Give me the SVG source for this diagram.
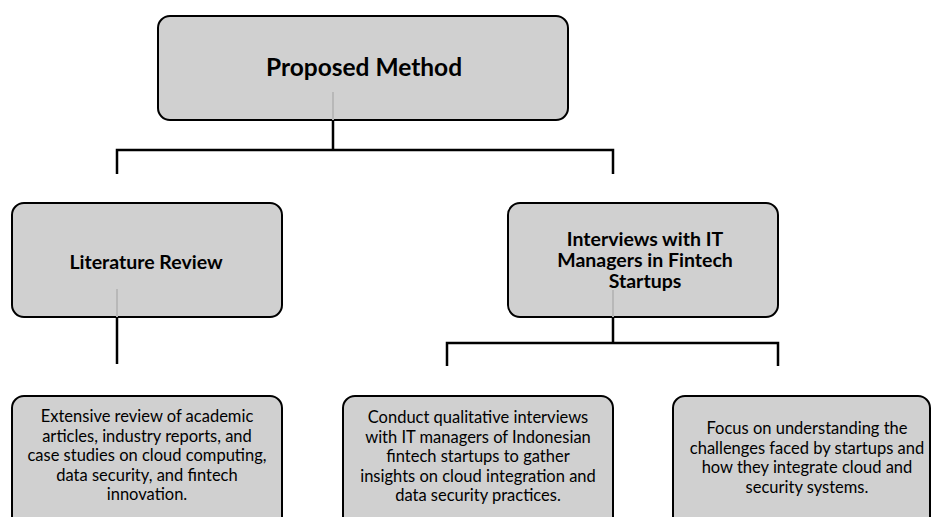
<svg xmlns="http://www.w3.org/2000/svg" width="935" height="517" viewBox="0 0 935 517">
<style>
.box{fill:#d0d0d0;stroke:#000;stroke-width:2}
.inner{stroke:#b8b8b8;stroke-width:2;fill:none}
.conn{stroke:#000;stroke-width:2.5;fill:none}
.t{font-family:Lato,"Open Sans","Liberation Sans",sans-serif;fill:#000;text-anchor:middle}
.h{font-weight:bold;font-size:19.5px}
.b{font-size:16.5px}
</style>
<rect width="935" height="517" fill="#fff"/>
<g id="connectors">
<path class="conn" d="M333 120 V150 M117 174 V150 H613 V174"/>
<path class="conn" d="M117 317 V364"/>
<path class="conn" d="M613 317 V343 M447 366 V343 H778 V366"/>
</g>
<g id="proposed-method">
<rect class="box" x="158" y="16" width="410" height="104" rx="12"/>
<line class="inner" x1="333" y1="92" x2="333" y2="120"/>
<text class="t" x="364" y="76" style="font-weight:bold;font-size:24.5px">Proposed Method</text>
</g>
<g id="literature-review">
<rect class="box" x="12" y="203" width="270" height="114" rx="12"/>
<line class="inner" x1="117" y1="289" x2="117" y2="317"/>
<text class="t h" x="146" y="269">Literature Review</text>
</g>
<g id="interviews">
<rect class="box" x="508" y="203" width="270" height="114" rx="12"/>
<line class="inner" x1="613" y1="290" x2="613" y2="317"/>
<text class="t h" x="645" y="246">Interviews with IT</text>
<text class="t h" x="645" y="267">Managers in Fintech</text>
<text class="t h" x="645" y="288">Startups</text>
</g>
<g id="lit-detail">
<rect class="box" x="12" y="396" width="270" height="140" rx="12"/>
<text class="t b" x="147" y="422">Extensive review of academic</text>
<text class="t b" x="147" y="441.5">articles, industry reports, and</text>
<text class="t b" x="147" y="461">case studies on cloud computing,</text>
<text class="t b" x="147" y="480.5">data security, and fintech</text>
<text class="t b" x="147" y="500">innovation.</text>
</g>
<g id="interview-detail">
<rect class="box" x="343" y="396" width="270" height="140" rx="12"/>
<text class="t b" x="478" y="423">Conduct qualitative interviews</text>
<text class="t b" x="478" y="442.5">with IT managers of Indonesian</text>
<text class="t b" x="478" y="462">fintech startups to gather</text>
<text class="t b" x="478" y="481.5">insights on cloud integration and</text>
<text class="t b" x="478" y="501">data security practices.</text>
</g>
<g id="focus-detail">
<rect class="box" x="673" y="396" width="257" height="140" rx="12"/>
<text class="t b" x="807" y="434">Focus on understanding the</text>
<text class="t b" x="807" y="453.5">challenges faced by startups and</text>
<text class="t b" x="807" y="473">how they integrate cloud and</text>
<text class="t b" x="807" y="492.5">security systems.</text>
</g>
</svg>
